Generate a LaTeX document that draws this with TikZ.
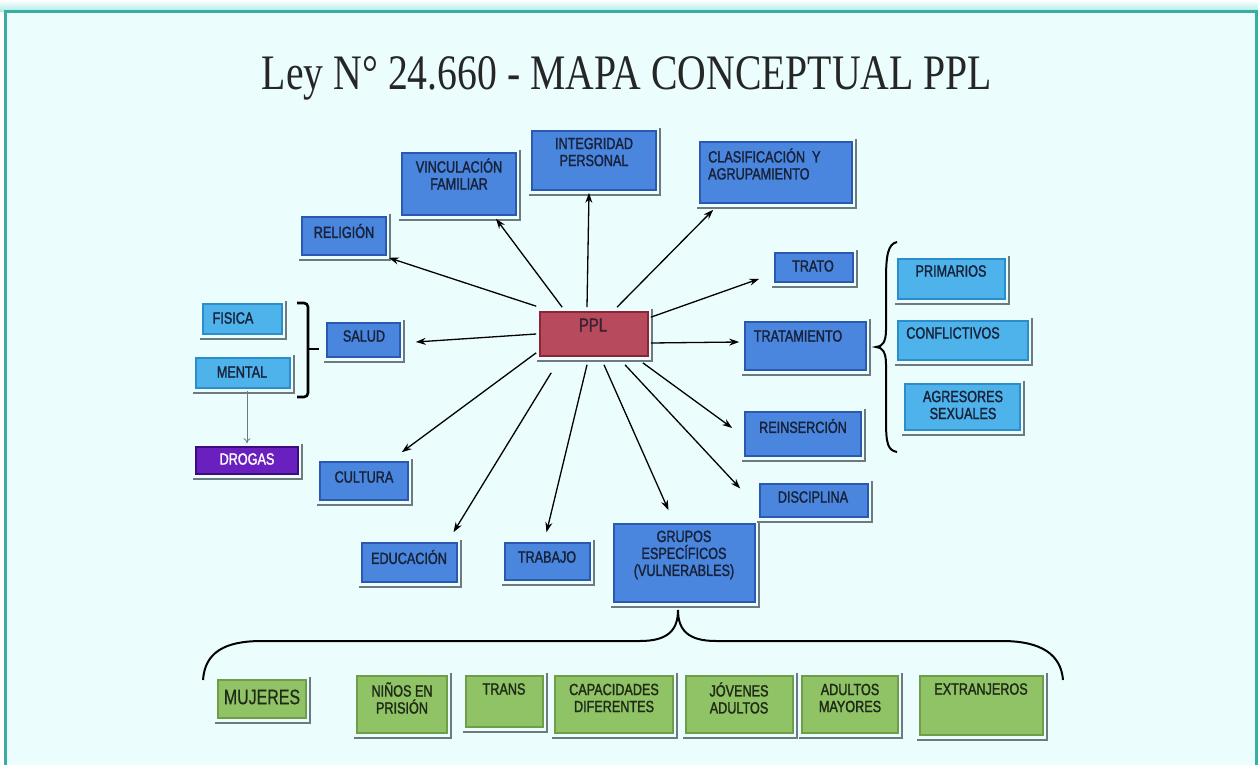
\documentclass[tikz,border=0pt]{standalone}
\usepackage{fontspec}
\setmainfont{Liberation Serif}
\newfontfamily\bxf[FakeStretch=0.78,FakeBold=1.6]{Liberation Sans}
\newfontfamily\mjf[FakeStretch=0.76,FakeBold=0.4]{Liberation Sans}
\usepackage{graphicx}
\usetikzlibrary{arrows.meta,calc,fit}
\definecolor{bg}{HTML}{EBFEFD}
\definecolor{teal}{HTML}{3AADA3}
\definecolor{glow}{HTML}{A9EBE5}
\definecolor{bluM}{HTML}{4A86DE}
\definecolor{bluE}{HTML}{2B58B0}
\definecolor{redM}{HTML}{B84A5E}
\definecolor{redE}{HTML}{8A2637}
\definecolor{ltbM}{HTML}{4DB3EA}
\definecolor{ltbE}{HTML}{2C8DCB}
\definecolor{purM}{HTML}{6A1FBF}
\definecolor{purE}{HTML}{3C0C7E}
\definecolor{grnM}{HTML}{90C266}
\definecolor{grnE}{HTML}{6E9E4A}
\definecolor{txtc}{HTML}{18223A}
\definecolor{gtxt}{HTML}{1F2B17}
\definecolor{pplt}{HTML}{3B2233}
\definecolor{shd}{HTML}{6E7A80}
\tikzset{
  shadowL/.style={draw=shd, line width=2.4pt},
  basebox/.style={inner sep=0pt, line width=1.6pt},
  bbox/.style={basebox, fill=bluM, draw=bluE},
  rbox/.style={basebox, fill=redM, draw=redE},
  lbox/.style={basebox, fill=ltbM, draw=ltbE},
  pbox/.style={basebox, fill=purM, draw=purE},
  gbox/.style={basebox, fill=grnM, draw=grnE},
  txt/.style={font=\bxf\fontsize{16.2}{17}\selectfont, text=txtc, align=center, inner sep=0pt},
  arr/.style={draw=black, line width=1.3pt, -{Stealth[length=10pt,width=7pt]}},
  thinarr/.style={draw=shd, line width=0.8pt, -{To[length=5pt,width=7pt]}},
  brk/.style={draw=black, line width=2.6pt},
  brc/.style={draw=black, line width=2pt},
}
% #1 box style, #2 name, #3 x1, #4 y1, #5 x2, #6 y2, #7 text position, #8 text options, #9 text
\newcommand\bx[9]{%
  \draw[shadowL] (#3-3,#6+5) -- (#5+4,#6+5) -- (#5+4,#4-3);
  \node[#1, fit={(#3,#4) (#5,#6)}] (#2) {};
  \node[txt,#8] (#2t) at (#7) {#9};
}
\begin{document}
\begin{tikzpicture}[x=1pt,y=-1pt]
\useasboundingbox (0,0) rectangle (1258,765);
% frame
\shade[top color=white, bottom color=glow] (0,0) rectangle (1258,12);
\fill[bg] (5,12) rectangle (1256,775);
\draw[teal, line width=3pt] (5,780) -- (5,12) -- (1256,12) -- (1256,780);
% title
\node[anchor=base, text=black!85] (title) at (627,90)
  {\resizebox{730pt}{33pt}{Ley N° 24.660 - MAPA CONCEPTUAL PPL}};
% boxes
\bx{bbox}{integ}{532}{131}{656}{190}{594,152}{}{INTEGRIDAD\\PERSONAL}
\bx{bbox}{vinc}{402}{153}{516}{215}{459,174}{}{VINCULACIÓN\\FAMILIAR}
\bx{bbox}{clas}{700}{142}{852}{203}{708,164}{anchor=west,align=left}{CLASIFICACIÓN\ \ Y\\AGRUPAMIENTO}
\bx{bbox}{relig}{302}{217}{386}{255}{344,231}{}{RELIGIÓN}
\bx{bbox}{trato}{775}{253}{853}{282}{813,266}{}{TRATO}
\bx{rbox}{ppl}{540}{312}{648}{356}{593,325}{text=pplt,font=\bxf\fontsize{19}{20}\selectfont}{PPL}
\bx{bbox}{salud}{327}{323}{400}{357}{364,336}{}{SALUD}
\bx{lbox}{fisica}{203}{304}{282}{334}{233,318}{}{FISICA}
\bx{lbox}{mental}{196}{358}{290}{388}{242,372}{}{MENTAL}
\bx{pbox}{drogas}{196}{447}{298}{474}{247,459}{text=white}{DROGAS}
\bx{bbox}{tratam}{745}{322}{866}{370}{798,336}{}{TRATAMIENTO}
\bx{bbox}{reins}{745}{412}{861}{456}{803,426}{}{REINSERCIÓN}
\bx{bbox}{cult}{320}{462}{408}{500}{364,477}{}{CULTURA}
\bx{bbox}{disc}{760}{484}{868}{517}{813,497}{}{DISCIPLINA}
\bx{bbox}{educ}{362}{543}{457}{582}{409,557}{}{EDUCACIÓN}
\bx{bbox}{trab}{505}{543}{590}{580}{547,557}{}{TRABAJO}
\bx{bbox}{grupos}{614}{524}{755}{602}{684,555}{}{GRUPOS\\ESPECÍFICOS\\(VULNERABLES)}
\bx{lbox}{prim}{898}{259}{1005}{299}{951,271}{}{PRIMARIOS}
\bx{lbox}{confl}{898}{321}{1028}{360}{953,333}{}{CONFLICTIVOS}
\bx{lbox}{agres}{905}{384}{1020}{430}{963,405}{}{AGRESORES\\SEXUALES}
\bx{gbox}{muj}{218}{680}{306}{718}{262,697}{text=gtxt,font=\mjf\fontsize{21}{24}\selectfont}{MUJERES}
\bx{gbox}{ninos}{357}{676}{447}{733}{402,698}{text=gtxt}{NIÑOS\ EN\\PRISIÓN}
\bx{gbox}{trans}{466}{676}{543}{727}{504,689}{text=gtxt}{TRANS}
\bx{gbox}{capac}{555}{676}{673}{733}{614,698}{text=gtxt}{CAPACIDADES\\DIFERENTES}
\bx{gbox}{joven}{686}{676}{793}{733}{739,698}{text=gtxt}{JÓVENES\\ADULTOS}
\bx{gbox}{mayor}{802}{676}{898}{733}{850,698}{text=gtxt}{ADULTOS\\MAYORES}
\bx{gbox}{extr}{920}{676}{1043}{735}{981,689}{text=gtxt}{EXTRANJEROS}
% arrows from PPL
\draw[arr] ($(ppl.north west)+(-3,-5)$) -- ($(relig.south east)+(2,2)$);
\draw[arr] ($(ppl.north west)+(23,-4)$) -- ($(vinc.south)+(37,3)$);
\draw[arr] ($(ppl.north)+(-7,-4)$) -- ($(integ.south)+(-5,2)$);
\draw[arr] ($(ppl.north)+(23,-4)$) -- ($(clas.south west)+(14,6)$);
\draw[arr] ($(ppl.north east)+(2,6)$) -- ($(trato.south west)+(-15,-4)$);
\draw[arr] ($(ppl.east)+(2,9)$) -- ($(tratam.west)+(-5,-4)$);
\draw[arr] ($(ppl.south east)+(-6,6)$) -- ($(reins.west)+(-12,-6)$);
\draw[arr] ($(ppl.south)+(31,8)$) -- ($(disc.west)+(-19,-12)$);
\draw[arr] ($(ppl.south)+(10,8)$) -- ($(grupos.north)+(-16,-13)$);
\draw[arr] ($(ppl.south)+(-7,8)$) -- ($(trab.north)+(-1,-10)$);
\draw[arr] ($(ppl.south west)+(12,16)$) -- ($(educ.north)+(44,-10)$);
\draw[arr] ($(ppl.south west)+(-3,-4)$) -- ($(cult.north east)+(-7,-9)$);
\draw[arr] ($(ppl.west)+(-3,0)$) -- ($(salud.east)+(15,2)$);
\draw[thinarr] ($(mental.south)+(4,2)$) -- ($(drogas.north)+(0,-3)$);
% bracket FISICA / MENTAL
\draw[brk, rounded corners=4pt] (297,303) -- (308,303) -- (308,397) -- (297,397);
\draw[brk] (308,349) -- (319,349);
% brace TRATAMIENTO
\draw[brc] (897,242) .. controls (888,244) and (886,255) .. (886,280) -- (886,330)
  .. controls (886,342) and (882,347) .. (876,347)
  .. controls (882,347) and (886,352) .. (886,364) -- (886,420)
  .. controls (886,445) and (888,450) .. (897,452);
% brace GRUPOS
\draw[brc] (203,680) .. controls (205,652) and (225,641) .. (262,641) -- (640,641)
  .. controls (668,641) and (678,630) .. (678,610)
  .. controls (678,630) and (688,641) .. (716,641) -- (1002,641)
  .. controls (1042,641) and (1061,655) .. (1063,680);
\end{tikzpicture}
\end{document}
